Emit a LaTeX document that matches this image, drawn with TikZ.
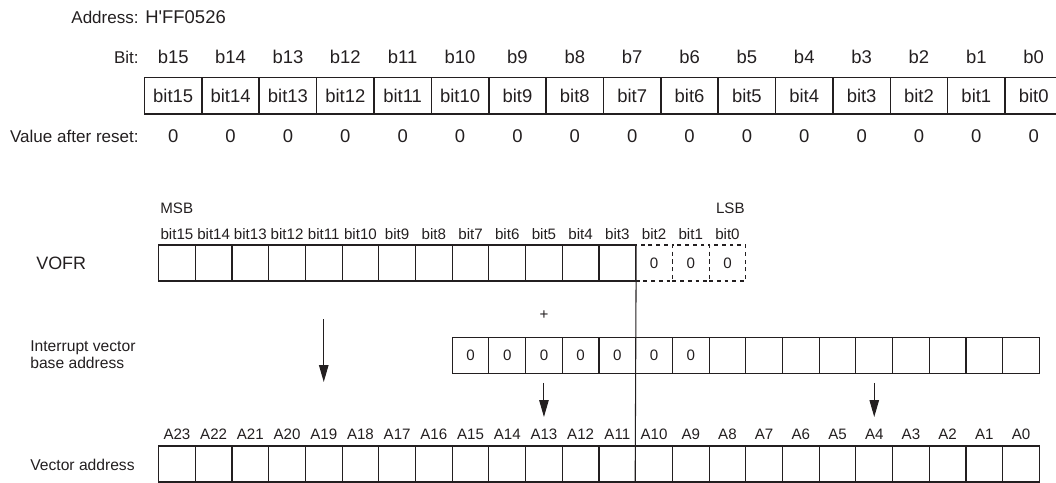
\documentclass[tikz,border=0pt]{standalone}
\usepackage{fontspec}
\setmainfont{Liberation Sans}
\usetikzlibrary{positioning, arrows.meta}
\definecolor{inkgray}{HTML}{231F20}

\begin{document}
\begin{tikzpicture}[x=0.02cm, y=-0.02cm, color=inkgray,
    regfield/.style={draw, line width=0.9pt, minimum width=1.147cm,
                     minimum height=0.73cm, inner sep=0pt, font=\fontsize{10.5}{12}\selectfont},
    toptext/.style={inner sep=0pt, font=\fontsize{10.5}{12}\selectfont},
    caption/.style={inner sep=0pt, font=\fontsize{9.7}{12}\selectfont},
    cell/.style={draw, line width=0.6pt, minimum width=0.734cm,
                 minimum height=0.72cm, inner sep=0pt, font=\fontsize{8.6}{10}\selectfont},
    spare/.style={cell, dash pattern=on 2.2pt off 2.2pt},
    small/.style={inner sep=0pt, font=\fontsize{8.6}{10}\selectfont},
    sidelabel/.style={inner sep=0pt, font=\fontsize{8.9}{9.7}\selectfont, anchor=west, align=left},
    flow/.style={-{Triangle[length=3.4mm, width=1.9mm]}, line width=0.6pt}]
    \useasboundingbox (0,0) rectangle (1056,483);

    % register layout
    \node[caption, anchor=base east] (addrcap) at (139,24) {Address:};
    \node[toptext, anchor=base west] (addrval) at (145,24) {H\textquotesingle FF0526};
    \node[caption, anchor=base east] (bitcap) at (139,63.5) {Bit:};
    \node[caption, anchor=base east] (resetcap) at (139,143) {Value after reset:};
    \foreach \i in {0,...,15} {
      \pgfmathtruncatemacro\bitno{15-\i}
      \node[regfield] (r\bitno) at ({144.5+(\i+0.5)*57.37},95.8) {bit\bitno};
      \node[toptext, anchor=base] (rb\bitno) at ({144.5+(\i+0.5)*57.37},63.5) {b\bitno};
      \node[toptext, anchor=base] (rv\bitno) at ({144.5+(\i+0.5)*57.37},143) {0};
    }

    % VOFR
    \node[inner sep=0pt, font=\fontsize{10.2}{12}\selectfont, anchor=west] (vofrcap) at (36,263) {VOFR};
    \node[small, anchor=base west] (msb) at (160,214) {MSB};
    \node[small, anchor=base east] (lsb) at (745,214) {LSB};
    \foreach \i in {0,...,12} {
      \pgfmathtruncatemacro\bitno{15-\i}
      \node[cell] (v\bitno) at ({158.6+(\i+0.5)*36.7},263) {};
    }
    \foreach \i in {13,14,15} {
      \pgfmathtruncatemacro\bitno{15-\i}
      \node[spare] (v\bitno) at ({158.6+(\i+0.5)*36.7},263) {0};
    }
    \foreach \i in {0,...,15} {
      \pgfmathtruncatemacro\bitno{15-\i}
      \node[small, anchor=base] (vb\bitno) at ({158.6+(\i+0.5)*36.7},239.3) {bit\bitno};
    }

    % interrupt vector base address
    \node[sidelabel] (ivcap) at (30,354.5) {Interrupt vector\\base address};
    \node[small] (plus) at ({158.6+10.5*36.7},315) {+};
    \foreach \i in {8,...,14}
      \node[cell] (base\i) at ({158.6+(\i+0.5)*36.7},355.3) {0};
    \foreach \i in {15,...,23}
      \node[cell] (base\i) at ({158.6+(\i+0.5)*36.7},355.3) {};

    % vector address
    \node[sidelabel] (vacap) at (30,465) {Vector address};
    \foreach \i in {0,...,23} {
      \pgfmathtruncatemacro\addrno{23-\i}
      \node[cell] (a\addrno) at ({158.6+(\i+0.5)*36.7},464) {};
      \node[small, anchor=base] (al\addrno) at ({158.6+(\i+0.5)*36.7},439) {A\addrno};
    }

    \draw[line width=0.6pt] (v3.north east) -- (a10.south west);

    \coordinate (hitop) at (a19 |- 0,319);
    \coordinate (hiend) at (a19 |- 0,382);
    \coordinate (midend) at (a13 |- 0,417);
    \coordinate (lowend) at (a4 |- 0,417);
    \draw[flow] (hitop) -- (hiend);
    \draw[flow] ([yshift=-0.18cm]base10.south) -- (midend);
    \draw[flow] ([yshift=-0.18cm]base19.south) -- (lowend);
  \end{tikzpicture}
\end{document}
